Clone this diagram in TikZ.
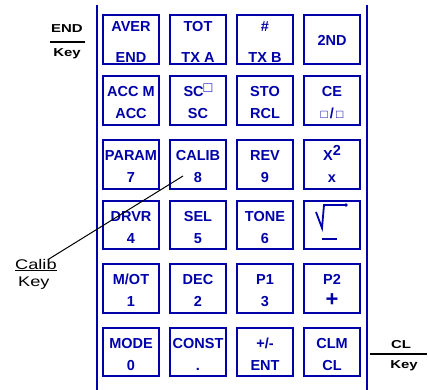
\documentclass[tikz,border=0pt]{standalone}
\usepackage{fontspec}
\setmainfont{Liberation Sans}
\newfontfamily\sidefont[FakeStretch=1.3]{Liberation Sans}
\usetikzlibrary{positioning}
\definecolor{keyblue}{RGB}{0,0,170}
\tikzset{
  keybox/.style={draw=keyblue, line width=1.6pt, minimum width=55.5pt, minimum height=48.5pt, inner sep=0pt},
  keytext/.style={text=keyblue, font=\bfseries\fontsize{14.5}{14.5}\selectfont, inner sep=0pt, anchor=base},
  sidetext/.style={font=\sidefont\bfseries\fontsize{11.5}{11.5}\selectfont, inner sep=0pt, anchor=base},
  calibtext/.style={font=\sidefont\fontsize{14}{14}\selectfont, inner sep=0pt, anchor=base west},
}
\begin{document}
\begin{tikzpicture}[x=1pt, y=-1pt]
        \useasboundingbox (0,0) rectangle (428,390);
        % panel edges
        \draw[keyblue, line width=2pt] (97,5) -- (97,390) ;
        \draw[keyblue, line width=2pt] (367,5) -- (367,390) ;
        % top row
        \foreach \n/\x/\top/\bot in {k11/131/AVER/END, k12/198/TOT/TX A, k13/265/\#/TX B, k14/332//}
        {
          \node[keybox] (\n) at (\x,39.5) {};
          \node[keytext] at ([yshift=7.5pt]\n.center) {\top};
          \node[keytext] at ([yshift=-23pt]\n.center) {\bot};
        }
        \node[keytext] at ([yshift=-6.5pt]k14.center) {2ND};
        % other rows
        \foreach \n/\x/\y/\top/\bot in {
          k21/131/100.5/ACC M/ACC, k22/198/100.5/{SC\raisebox{4pt}{□}}/SC, k23/265/100.5/STO/RCL, k24/332/100.5/CE/{\fontsize{12}{12}\selectfont □\,\fontsize{14.5}{14.5}\selectfont/\,\fontsize{12}{12}\selectfont □},
          k31/131/164.5/PARAM/7, k32/198/164.5/CALIB/8, k33/265/164.5/REV/9, k34/332/164.5/{X\raisebox{5pt}{2}}/x,
          k41/131/225/DRVR/4, k42/198/225/SEL/5, k43/265/225/TONE/6, k44/332/225//,
          k51/131/288.5/{M/OT}/1, k52/198/288.5/DEC/2, k53/265/288.5/P1/3, k54/332/288.5/P2/{\fontsize{22}{22}\selectfont +},
          k61/131/352/MODE/0, k62/198/352/CONST/., k63/265/352/{+/-}/ENT, k64/332/352/CLM/CL}
        {
          \node[keybox] (\n) at (\x,\y) {};
          \node[keytext] at ([yshift=4pt]\n.center) {\top};
          \node[keytext] at ([yshift=-18pt]\n.center) {\bot};
        }
        % square root key
        \begin{scope}[shift={(k44.center)}]
          \draw[keyblue, line width=1.8pt] (-16,-13) -- (-10,3) -- (-8,-20) -- (14,-20) ;
          \fill[keyblue] (14,-20) circle (1.8pt) ;
          \draw[keyblue, line width=1.8pt] (-10,14) -- (5,14) ;
        \end{scope}
        % side labels
        \node[sidetext] (endkey) at (67,33) {END};
        \node[sidetext] (endkeyb) at (67,57) {Key};
        \draw[line width=1.5pt] (50,42) -- (85,42) ;
        \node[sidetext] (clkey) at (401,348) {CL};
        \node[sidetext] (clkeyb) at (404,368) {Key};
        \draw[line width=1.5pt] (370,354) -- (427,354) ;
        \node[calibtext] (calib) at (15,269) {\underline{Calib}};
        \node[calibtext] (calibb) at (18,286) {Key};
        \coordinate (calibtip) at ([xshift=-15pt,yshift=-11.5pt]k32.center);
        \draw[line width=1pt] ([xshift=-9pt,yshift=-1pt]calib.north east) -- (calibtip) ;
\end{tikzpicture}
\end{document}
